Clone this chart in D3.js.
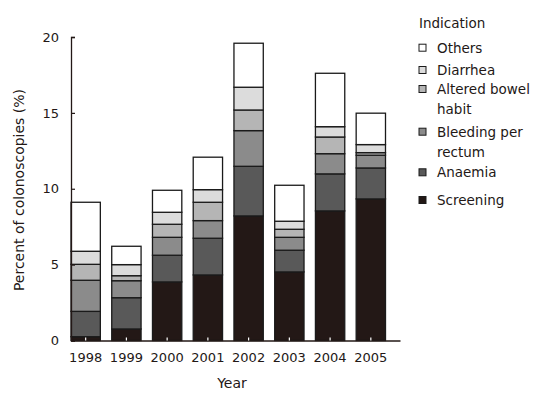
<!DOCTYPE html>
<html>
<head>
<meta charset="utf-8">
<script src="https://cdn.jsdelivr.net/npm/d3@7"></script>
<style>
  html, body { margin: 0; padding: 0; background: #fff; }
  svg text { font-family: "DejaVu Sans", Verdana, sans-serif; fill: #231816; }
</style>
</head>
<body>
<svg id="chart" width="541" height="404"></svg>
<script>
const years = ["1998", "1999", "2000", "2001", "2002", "2003", "2004", "2005"];
const seriesNames = ["Screening", "Anaemia", "Bleeding per rectum", "Altered bowel habit", "Diarrhea", "Others"];
const screening = [0.25, 0.76, 3.86, 4.32, 8.21, 4.52, 8.54, 9.33];
const anaemia   = [1.67, 2.06, 1.76, 2.42, 3.27, 1.43, 2.44, 2.04];
const bleeding  = [2.05, 1.12, 1.18, 1.16, 2.35, 0.85, 1.33, 0.84];
const altered   = [1.05, 0.33, 0.86, 1.21, 1.36, 0.53, 1.10, 0.17];
const diarrhea  = [0.86, 0.73, 0.79, 0.83, 1.50, 0.53, 0.68, 0.53];
const others    = [3.23, 1.21, 1.45, 2.14, 2.90, 2.37, 3.52, 2.07];
const yTicks = [0, 5, 10, 15, 20];
const colors = ["#231816", "#595959", "#8b8b8b", "#b5b5b5", "#dcdcdc", "#ffffff"];
const legendLines = [["Others"], ["Diarrhea"], ["Altered bowel", "habit"], ["Bleeding per", "rectum"], ["Anaemia"], ["Screening"]];
const legendOrder = [5, 4, 3, 2, 1, 0];

const allSeries = [screening, anaemia, bleeding, altered, diarrhea, others];
const table = years.map((yr, i) => {
  const row = { year: yr };
  seriesNames.forEach((n, k) => row[n] = allSeries[k][i]);
  return row;
});
const stacked = d3.stack().keys(seriesNames)(table);

const svg = d3.select("#chart");
const x = d3.scaleBand().domain(years).range([71, 400])
  .paddingInner(0.28).paddingOuter(0.178).align(0);
const y = d3.scaleLinear().domain([0, 20]).range([340.5, 37]);

// bars
const g = svg.append("g");
stacked.forEach((layer, k) => {
  g.selectAll(null).data(layer).enter().append("rect")
    .attr("x", d => x(d.data.year))
    .attr("y", d => y(d[1]))
    .attr("width", x.bandwidth())
    .attr("height", d => y(d[0]) - y(d[1]))
    .attr("fill", colors[k])
    .attr("stroke", "#1a1a1a")
    .attr("stroke-width", 1.3);
});

// y axis
const yAxis = svg.append("g").attr("transform", "translate(71,0)")
  .call(d3.axisLeft(y).tickValues(yTicks).tickSize(-4).tickPadding(12).tickFormat(d3.format("d")));
yAxis.select(".domain").attr("stroke", "#231816").attr("stroke-width", 1.3);
yAxis.selectAll(".tick line").attr("stroke", "#231816").attr("stroke-width", 1.2);
yAxis.selectAll("text").style("font-size", "13px").attr("fill", "#231816");

// x axis
const xAxis = svg.append("g").attr("transform", `translate(0,${y(0)})`)
  .call(d3.axisBottom(x).tickSize(-3).tickPadding(12).tickSizeOuter(0));
xAxis.select(".domain").attr("stroke", "#231816").attr("stroke-width", 1.3);
xAxis.selectAll(".tick line").attr("stroke", "#ffffff").attr("stroke-width", 1.2);
xAxis.selectAll("text").style("font-size", "13px").attr("fill", "#231816");

// axis titles
svg.append("text").attr("x", 232).attr("y", 388).attr("text-anchor", "middle")
  .style("font-size", "14px").text("Year");
svg.append("text").attr("transform", "translate(24,190) rotate(-90)").attr("text-anchor", "middle")
  .style("font-size", "14px").text("Percent of colonoscopies (%)");

// legend
const lg = svg.append("g");
lg.append("text").attr("x", 419).attr("y", 28).style("font-size", "13.5px").text("Indication");
const itemY = [47.7, 70, 89, 131.7, 172.3, 200];
legendOrder.forEach((k, i) => {
  const cy = itemY[i];
  lg.append("rect").attr("x", 419).attr("y", cy - 3.5).attr("width", 7).attr("height", 7)
    .attr("fill", colors[k]).attr("stroke", "#1a1a1a").attr("stroke-width", 1);
  legendLines[i].forEach((line, j) => {
    lg.append("text").attr("x", 437).attr("y", cy + 5 + j * 20)
      .style("font-size", "13.5px").text(line);
  });
});
</script>
</body>
</html>
